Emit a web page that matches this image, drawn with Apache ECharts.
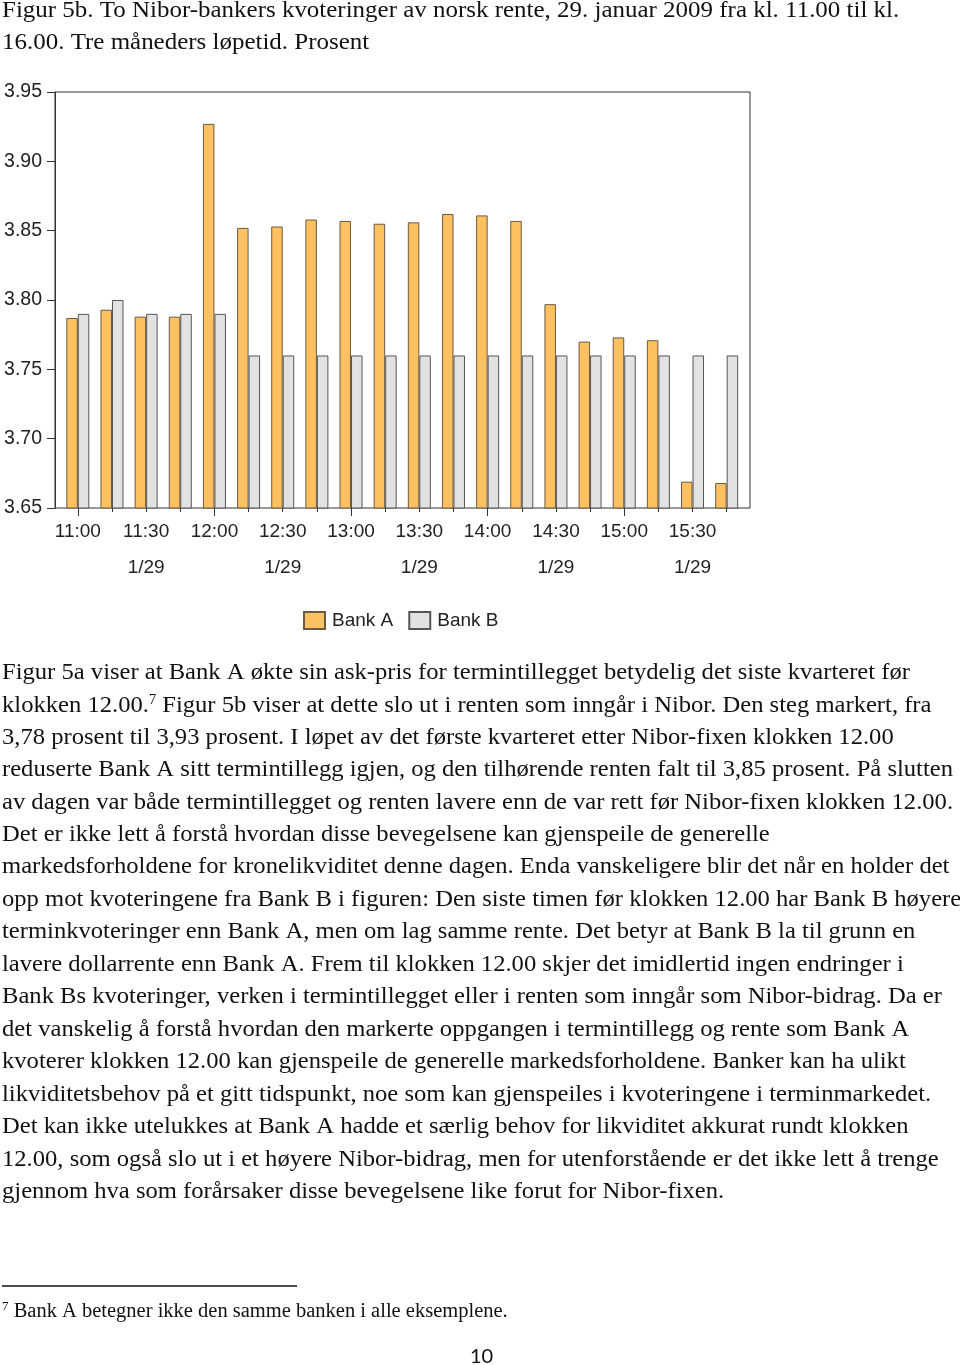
<!DOCTYPE html>
<html><head><meta charset="utf-8">
<script src="https://cdn.jsdelivr.net/npm/echarts@6/dist/echarts.min.js"></script>
<style>html,body{margin:0;padding:0;background:#fff}#c{width:960px;height:1365px}</style>
</head><body><div id="c"></div>
<script>
// ---- data ----
const categories = ['11:00','11:15','11:30','11:45','12:00','12:15','12:30','12:45','13:00','13:15',
                    '13:30','13:45','14:00','14:15','14:30','14:45','15:00','15:15','15:30','15:45'];
const dateLabel = '1/29';
const bankA = [3.787,3.793,3.788,3.788,3.927,3.852,3.853,3.858,3.857,3.855,
               3.856,3.862,3.861,3.857,3.797,3.770,3.773,3.771,3.669,3.668];
const bankB = [3.790,3.800,3.790,3.790,3.790,3.760,3.760,3.760,3.760,3.760,
               3.760,3.760,3.760,3.760,3.760,3.760,3.760,3.760,3.760,3.760];
const yMin = 3.65, yMax = 3.95, yStep = 0.05;
const seriesNames = ['Bank A','Bank B'];

const titleLines = [
  'Figur 5b. To Nibor-bankers kvoteringer av norsk rente, 29. januar 2009 fra kl. 11.00 til kl.',
  '16.00. Tre måneders løpetid. Prosent'
];
const bodyLines = [
  'Figur 5a viser at Bank A økte sin ask-pris for termintillegget betydelig det siste kvarteret før',
  '{n|klokken 12.00.}{s|7}{n| Figur 5b viser at dette slo ut i renten som inngår i Nibor. Den steg markert, fra}',
  '3,78 prosent til 3,93 prosent. I løpet av det første kvarteret etter Nibor-fixen klokken 12.00',
  'reduserte Bank A sitt termintillegg igjen, og den tilhørende renten falt til 3,85 prosent. På slutten',
  'av dagen var både termintillegget og renten lavere enn de var rett før Nibor-fixen klokken 12.00.',
  'Det er ikke lett å forstå hvordan disse bevegelsene kan gjenspeile de generelle',
  'markedsforholdene for kronelikviditet denne dagen. Enda vanskeligere blir det når en holder det',
  'opp mot kvoteringene fra Bank B i figuren: Den siste timen før klokken 12.00 har Bank B høyere',
  'terminkvoteringer enn Bank A, men om lag samme rente. Det betyr at Bank B la til grunn en',
  'lavere dollarrente enn Bank A. Frem til klokken 12.00 skjer det imidlertid ingen endringer i',
  'Bank Bs kvoteringer, verken i termintillegget eller i renten som inngår som Nibor-bidrag. Da er',
  'det vanskelig å forstå hvordan den markerte oppgangen i termintillegg og rente som Bank A',
  'kvoterer klokken 12.00 kan gjenspeile de generelle markedsforholdene. Banker kan ha ulikt',
  'likviditetsbehov på et gitt tidspunkt, noe som kan gjenspeiles i kvoteringene i terminmarkedet.',
  'Det kan ikke utelukkes at Bank A hadde et særlig behov for likviditet akkurat rundt klokken',
  '12.00, som også slo ut i et høyere Nibor-bidrag, men for utenforstående er det ikke lett å trenge',
  'gjennom hva som forårsaker disse bevegelsene like forut for Nibor-fixen.'
];
const footnote = '{s|7}{n| Bank A betegner ikke den samme banken i alle eksemplene.}';
const pageNo = '10';

// ---- chart ----
const chart = echarts.init(document.getElementById('c'), null, {renderer: 'canvas'});
const serif = '"Liberation Serif", "Times New Roman", serif';
const sans = '"Liberation Sans", Arial, sans-serif';
const bodySize = 24;

const graphics = [];
titleLines.forEach((t, i) => graphics.push({
  type: 'text', left: 2, top: 10 + i * 32 - 11, scaleX: 1.04,
  style: {text: t, font: `${bodySize}px ${serif}`, fill: '#111'}
}));
bodyLines.forEach((t, i) => graphics.push({
  type: 'text', left: 2, top: 671 + i * 32.45 - 10.5, scaleX: 1.025,
  style: {text: t, font: `${bodySize}px ${serif}`, fill: '#111',
    rich: {n: {fontSize: bodySize, fontFamily: serif, fill: '#111'},
           s: {fontSize: 14, fontFamily: serif, fill: '#111', padding: [0, 0, 12, 0]}}}
}));
graphics.push({type: 'line', shape: {x1: 2, y1: 1286, x2: 297, y2: 1286}, style: {stroke: '#111', lineWidth: 1.5}});
graphics.push({type: 'text', left: 2, top: 1300,
  style: {text: footnote, font: `20.5px ${serif}`, fill: '#111',
    rich: {n: {fontSize: 20.5, fontFamily: serif, fill: '#111'},
           s: {fontSize: 13, fontFamily: serif, fill: '#111', padding: [0, 0, 10, 0]}}}});
graphics.push({type: 'text', left: 470, top: 1347,
  style: {text: pageNo, font: `20px Lato, ${sans}`, fill: '#111'}});

const option = {
  animation: false,
  backgroundColor: '#fff',
  grid: [
    {left: 55, top: 92, width: 695, height: 416, show: true, borderColor: '#333', borderWidth: 1, backgroundColor: 'transparent'},
    {left: 60.75, top: 92, width: 683, height: 416}
  ],
  legend: {
    data: seriesNames, left: 303, top: 611, padding: 0, itemWidth: 21, itemHeight: 17, itemGap: 15,
    icon: 'rect',
    textStyle: {fontSize: 19, color: '#222', fontFamily: sans, padding: [0, 0, 0, 2]}
  },
  xAxis: [
    {gridIndex: 0, type: 'category', data: categories, show: false},
    {gridIndex: 1, type: 'category', data: categories, position: 'bottom',
     axisLine: {show: false},
     axisTick: {show: true, alignWithLabel: true, interval: 0, length: 4, lineStyle: {color: '#333'}},
     axisLabel: {interval: 1, fontSize: 19, color: '#222', fontFamily: sans, lineHeight: 36, margin: 6,
       formatter: (v, i) => (i % 4 === 2 ? v + '\n' + dateLabel : v)}},
    {gridIndex: 1, type: 'category', data: categories, position: 'bottom',
     axisLine: {show: false}, axisLabel: {show: false},
     axisTick: {show: true, alignWithLabel: true, interval: 3, length: 8, lineStyle: {color: '#333'}}}
  ],
  yAxis: [
    {gridIndex: 0, type: 'value', min: yMin, max: yMax, interval: yStep,
     axisLine: {show: true, lineStyle: {color: '#333'}},
     axisTick: {show: true, length: 8, lineStyle: {color: '#333'}},
     splitLine: {show: false},
     axisLabel: {fontSize: 19.5, color: '#222', fontFamily: sans, margin: 13, formatter: v => v.toFixed(2)}},
    {gridIndex: 1, type: 'value', min: yMin, max: yMax, show: false, splitLine: {show: false}}
  ],
  series: [
    {name: seriesNames[0], type: 'bar', xAxisIndex: 1, yAxisIndex: 1, data: bankA,
     barWidth: 11.5, barGap: '0%',
     itemStyle: {color: '#FFC060', borderColor: '#6b5a45', borderWidth: 1}},
    {name: seriesNames[1], type: 'bar', xAxisIndex: 1, yAxisIndex: 1, data: bankB,
     barWidth: 11.5, barGap: '0%',
     itemStyle: {color: '#E2E2E2', borderColor: '#555', borderWidth: 1}}
  ],
  graphic: graphics
};
chart.setOption(option);
</script>
</body></html>
